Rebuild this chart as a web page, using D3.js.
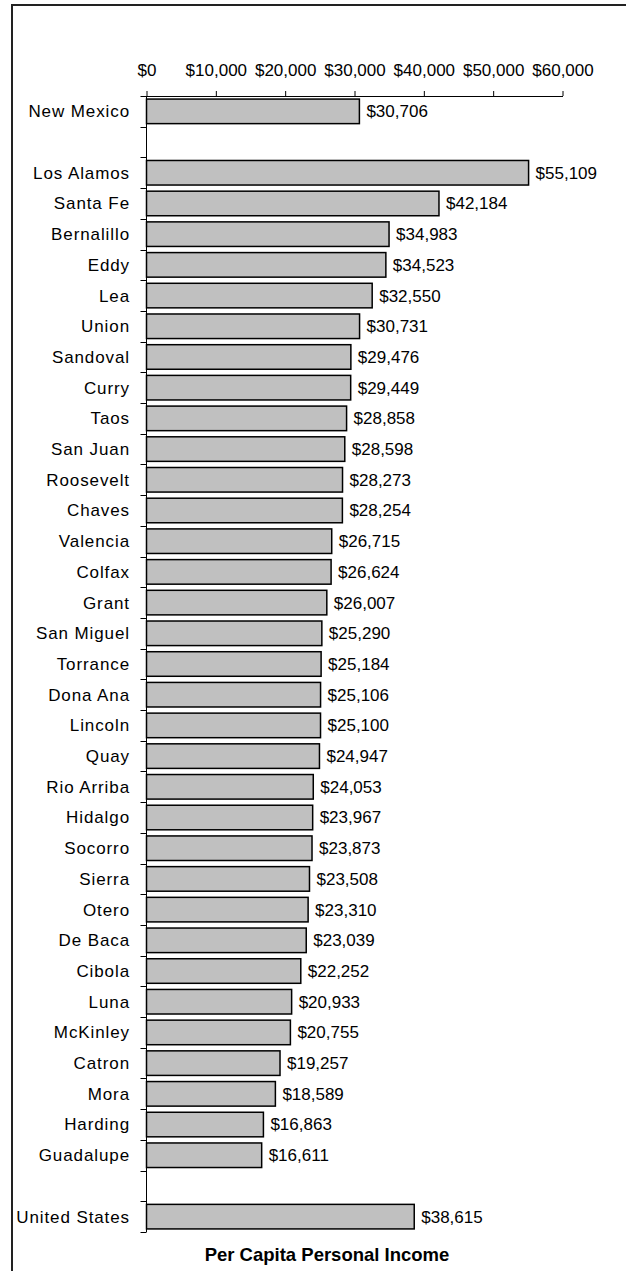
<!DOCTYPE html>
<html>
<head>
<meta charset="utf-8">
<script src="https://cdn.jsdelivr.net/npm/d3@7"></script>
<style>
  html, body { margin: 0; padding: 0; background: #fff; }
  svg { display: block; font-family: Arial, "Liberation Sans", sans-serif; }
</style>
</head>
<body>
<svg id="chart" width="626" height="1271"></svg>
<script>
// ---- data ----
const categories = [
  "New Mexico", "",
  "Los Alamos", "Santa Fe", "Bernalillo", "Eddy", "Lea", "Union", "Sandoval", "Curry",
  "Taos", "San Juan", "Roosevelt", "Chaves", "Valencia", "Colfax", "Grant", "San Miguel",
  "Torrance", "Dona Ana", "Lincoln", "Quay", "Rio Arriba", "Hidalgo", "Socorro", "Sierra",
  "Otero", "De Baca", "Cibola", "Luna", "McKinley", "Catron", "Mora", "Harding", "Guadalupe",
  " ",
  "United States"
];
const values = [
  30706, null,
  55109, 42184, 34983, 34523, 32550, 30731, 29476, 29449,
  28858, 28598, 28273, 28254, 26715, 26624, 26007, 25290,
  25184, 25106, 25100, 24947, 24053, 23967, 23873, 23508,
  23310, 23039, 22252, 20933, 20755, 19257, 18589, 16863, 16611,
  null,
  38615
];
const tickValues = [0, 10000, 20000, 30000, 40000, 50000, 60000];
const axisTitle = "Per Capita Personal Income";

const data = categories.map((c, i) => ({ key: c, value: values[i] }));

// ---- layout ----
const svg = d3.select("#chart");
const plotLeft = 146.5, plotRight = 562.5, plotTop = 96, plotBottom = 1232;

const x = d3.scaleLinear().domain([0, 60000]).range([plotLeft, plotRight]);
const y = d3.scaleBand().domain(categories).range([plotTop, plotBottom]).paddingInner(0).paddingOuter(0);
const barH = y.bandwidth() * 0.8;
const fmt = v => "$" + d3.format(",")(v);

// frame (left and top edges visible)
svg.append("line").attr("x1", 12).attr("x2", 12).attr("y1", 4).attr("y2", 1271)
  .attr("stroke", "#222").attr("stroke-width", 2);
svg.append("line").attr("x1", 11).attr("x2", 626).attr("y1", 5).attr("y2", 5)
  .attr("stroke", "#222").attr("stroke-width", 2);

// top value axis
const xAxis = d3.axisTop(x).tickValues(tickValues).tickFormat(fmt).tickSize(5).tickSizeOuter(0);
const gx = svg.append("g").attr("transform", `translate(0,${plotTop})`).call(xAxis);
gx.select(".domain").attr("stroke", "#000").attr("stroke-width", 1);
gx.selectAll(".tick line").attr("stroke", "#000");
gx.selectAll(".tick text").attr("font-size", 17).attr("font-family", "Arial, 'Liberation Sans', sans-serif")
  .attr("fill", "#000").attr("y", -20).attr("dy", 0);

// left category axis line and boundary ticks
svg.append("line").attr("x1", plotLeft).attr("x2", plotLeft).attr("y1", plotTop).attr("y2", plotBottom)
  .attr("stroke", "#000").attr("stroke-width", 1);
const boundaries = categories.map(c => y(c)).concat([plotBottom]);
svg.append("g").selectAll("line").data(boundaries).join("line")
  .attr("x1", plotLeft - 6).attr("x2", plotLeft)
  .attr("y1", d => Math.round(d) + 0.5).attr("y2", d => Math.round(d) + 0.5)
  .attr("stroke", "#000").attr("stroke-width", 1);

// category labels
svg.append("g").selectAll("text").data(data.filter(d => d.value != null)).join("text")
  .attr("x", 130)
  .attr("y", d => y(d.key) + y.bandwidth() / 2)
  .attr("dy", "0.35em")
  .attr("text-anchor", "end")
  .attr("font-size", 17)
  .attr("letter-spacing", 0.9)
  .attr("fill", "#000")
  .text(d => d.key);

// bars
svg.append("g").selectAll("rect").data(data.filter(d => d.value != null)).join("rect")
  .attr("x", x(0))
  .attr("y", d => y(d.key) + (y.bandwidth() - barH) / 2)
  .attr("width", d => x(d.value) - x(0))
  .attr("height", barH)
  .attr("fill", "#c0c0c0")
  .attr("stroke", "#000")
  .attr("stroke-width", 1.5);

// value labels
svg.append("g").selectAll("text").data(data.filter(d => d.value != null)).join("text")
  .attr("x", d => x(d.value) + 7)
  .attr("y", d => y(d.key) + y.bandwidth() / 2)
  .attr("dy", "0.35em")
  .attr("font-size", 17)
  .attr("fill", "#000")
  .text(d => fmt(d.value));

// axis title
svg.append("text")
  .attr("x", 327).attr("y", 1261)
  .attr("text-anchor", "middle")
  .attr("font-size", 18.5).attr("font-weight", "bold")
  .attr("fill", "#000")
  .text(axisTitle);
</script>
</body>
</html>
